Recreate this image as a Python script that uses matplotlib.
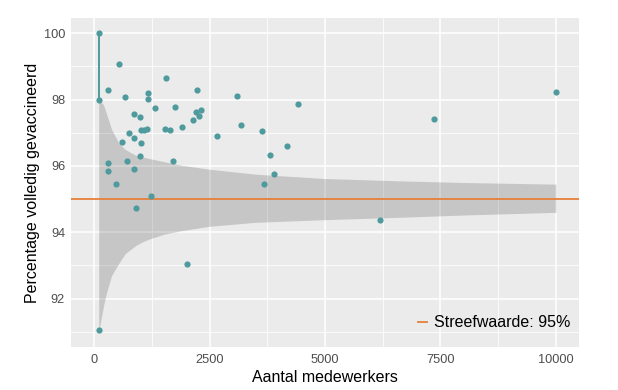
import numpy as np
import matplotlib
matplotlib.use("Agg")
import matplotlib.pyplot as plt

# organisations: number of employees and % fully vaccinated
medewerkers = [100, 100, 100, 534, 1558, 303, 2222, 678, 1162, 1162,
               1327, 1753, 2316, 2201, 2266, 2150, 866, 996, 1911, 1544,
               1645, 1024, 1082, 1140, 765, 866, 2655, 613, 1024, 996,
               1703, 707, 310, 859, 296, 470, 1240, 910, 2006, 3095,
               4422, 3182, 3643, 4177, 3803, 3889, 3680, 7352, 10000, 6200]
gevaccineerd = [100.0, 98.0, 91.05, 99.06, 98.66, 98.30, 98.30, 98.07, 98.20, 98.02,
                97.74, 97.78, 97.69, 97.63, 97.51, 97.37, 97.56, 97.48, 97.16, 97.10,
                97.08, 97.07, 97.08, 97.11, 96.98, 96.85, 96.90, 96.72, 96.70, 96.29,
                96.14, 96.14, 96.08, 95.92, 95.84, 95.45, 95.08, 94.74, 93.05, 98.11,
                97.87, 97.22, 97.06, 96.60, 96.33, 95.75, 95.46, 97.42, 98.23, 94.37]

# line between the two smallest organisations
lijn_x = [100, 100]
lijn_y = [100.0, 98.0]

# funnel band (upper / lower limit around the target)
band_x = [100, 166, 200, 238, 274, 380, 530, 670, 900, 1030, 1200, 1540, 1900,
          2500, 3500, 5000, 6600, 8000, 10000]
band_boven = [98.0, 97.9, 97.85, 97.7, 97.55, 97.1, 96.7, 96.5, 96.32, 96.28, 96.22, 96.12, 96.02,
              95.9, 95.75, 95.62, 95.55, 95.5, 95.45]
band_onder = [91.0, 91.5, 91.75, 92.0, 92.2, 92.7, 93.05, 93.35, 93.6, 93.7, 93.8, 93.95, 94.05,
              94.18, 94.3, 94.38, 94.45, 94.52, 94.6]

streefwaarde = 95

plt.rcParams['font.family'] = ['Liberation Sans', 'DejaVu Sans']

teal = '#4F9A9C'
oranje = '#E4803A'

fig = plt.figure(figsize=(6.18, 3.90), dpi=100)
ax = fig.add_axes([71 / 618, 43.3 / 390, 508 / 618, 328.4 / 390])
ax.set_facecolor('#EBEBEB')

ax.set_xlim(-500, 10500)
ax.set_ylim(90.55, 100.45)
ax.set_xticks([0, 2500, 5000, 7500, 10000])
ax.set_xticks([1250, 3750, 6250, 8750], minor=True)
ax.set_yticks([92, 94, 96, 98, 100])
ax.set_yticks([91, 93, 95, 97, 99], minor=True)
ax.grid(which='major', color='white', linewidth=1.1)
ax.grid(which='minor', color='white', linewidth=0.55)
ax.set_axisbelow(True)
for s in ax.spines.values():
    s.set_visible(False)
ax.tick_params(which='both', length=0, labelsize=9.2, labelcolor='#4D4D4D')
ax.tick_params(axis='x', pad=5)
ax.tick_params(axis='y', pad=4.3)

ax.fill_between(band_x, band_onder, band_boven, color='#333333', alpha=0.2,
                linewidth=0, zorder=2)
ax.axhline(streefwaarde, color=oranje, linewidth=1.3, zorder=3,
           label='Streefwaarde: 95%')
ax.plot(lijn_x, lijn_y, color=teal, linewidth=1.4, zorder=4)
ax.scatter(medewerkers, gevaccineerd, s=20, color=teal, linewidths=0, zorder=5)

ax.set_xlabel('Aantal medewerkers', fontsize=11.5, labelpad=3)
ax.set_ylabel('Percentage volledig gevaccineerd', fontsize=11.5, labelpad=2.5)

ax.legend(loc='lower right', bbox_to_anchor=((570 - 71) / 508, 0.05),
          frameon=False, fontsize=11.5, handlelength=0.55, handletextpad=0.4,
          borderpad=0, borderaxespad=0)

fig.savefig('out.png', dpi=100)
